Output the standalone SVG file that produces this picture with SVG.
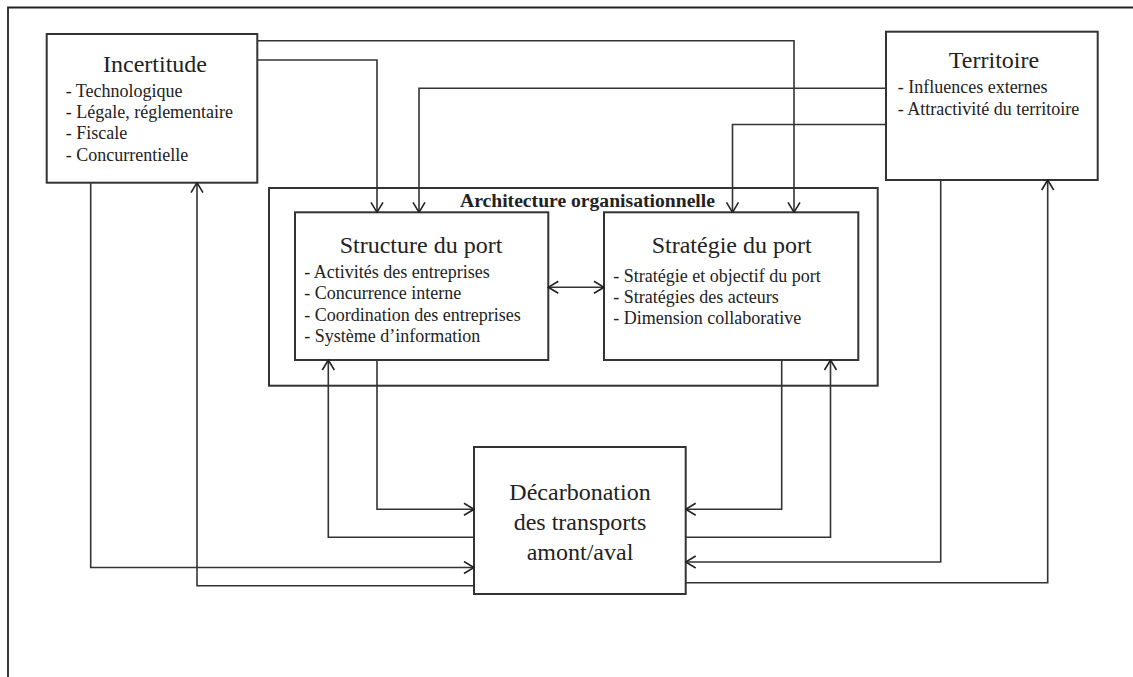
<svg xmlns="http://www.w3.org/2000/svg" width="1133" height="677" viewBox="0 0 1133 677">
<defs>
<marker id="arr" viewBox="0 0 12 14" refX="11" refY="7" markerWidth="12" markerHeight="14" markerUnits="userSpaceOnUse" orient="auto-start-reverse">
<path d="M1,1 L11,7 L1,13" fill="none" stroke="#222" stroke-width="1.6"/>
</marker>
</defs>
<style>
.box{fill:#fff;stroke:#333;stroke-width:2}
.frame{fill:none;stroke:#222;stroke-width:1.8}
.ln{fill:none;stroke:#333;stroke-width:1.6}
.ttl{font-family:"Liberation Serif","Times New Roman",serif;font-size:24px;fill:#222;text-anchor:middle}
.itm{font-family:"Liberation Serif","Times New Roman",serif;font-size:18px;fill:#222}
.arch{font-family:"Liberation Serif","Times New Roman",serif;font-size:18.5px;font-weight:bold;fill:#222}
</style>
<rect width="1133" height="677" fill="#fff"/>
<path class="frame" d="M8,677 V7.5 H1133"/>

<g id="architecture">
<rect class="box" x="269" y="188" width="608.7" height="197.7"/>
<text class="arch" x="460" y="206.5" textLength="255" lengthAdjust="spacingAndGlyphs">Architecture organisationnelle</text>
</g>

<g id="incertitude">
<rect class="box" x="46.7" y="34" width="210.6" height="148.7"/>
<text class="ttl" x="155" y="71.5">Incertitude</text>
<text class="itm" x="65.7" y="96.5">- Technologique</text>
<text class="itm" x="65.7" y="117.5">- Légale, réglementaire</text>
<text class="itm" x="65.7" y="139">- Fiscale</text>
<text class="itm" x="65.7" y="160.5">- Concurrentielle</text>
</g>

<g id="territoire">
<rect class="box" x="886" y="31.7" width="211.7" height="148.3"/>
<text class="ttl" x="994" y="68">Territoire</text>
<text class="itm" x="897.7" y="93">- Influences externes</text>
<text class="itm" x="897.7" y="115">- Attractivité du territoire</text>
</g>

<g id="structure">
<rect class="box" x="295" y="212.3" width="253.3" height="147.7"/>
<text class="ttl" x="421" y="252.7">Structure du port</text>
<text class="itm" x="304.3" y="277.7">- Activités des entreprises</text>
<text class="itm" x="304.3" y="299">- Concurrence interne</text>
<text class="itm" x="304.3" y="320.7">- Coordination des entreprises</text>
<text class="itm" x="304.3" y="342.3">- Système d’information</text>
</g>

<g id="strategie">
<rect class="box" x="604" y="212.3" width="254.3" height="147.7"/>
<text class="ttl" x="731.7" y="253">Stratégie du port</text>
<text class="itm" x="613.3" y="281.7">- Stratégie et objectif du port</text>
<text class="itm" x="613.3" y="302.7">- Stratégies des acteurs</text>
<text class="itm" x="613.3" y="324">- Dimension collaborative</text>
</g>

<g id="decarbonation">
<rect class="box" x="474" y="447" width="211.7" height="147"/>
<text class="ttl" x="580" y="499.5">Décarbonation</text>
<text class="ttl" x="580" y="529.5">des transports</text>
<text class="ttl" x="580" y="559.5">amont/aval</text>
</g>

<g id="connectors">
<path class="ln" d="M257.3,40.7 H794 V212.3" marker-end="url(#arr)"/>
<path class="ln" d="M257.3,60 H377 V212.3" marker-end="url(#arr)"/>
<path class="ln" d="M886,88.3 H419 V212.3" marker-end="url(#arr)"/>
<path class="ln" d="M886,124.5 H732.5 V212.3" marker-end="url(#arr)"/>
<path class="ln" d="M548.3,287.3 H604" marker-start="url(#arr)" marker-end="url(#arr)"/>
<path class="ln" d="M377,360 V509.3 H474" marker-end="url(#arr)"/>
<path class="ln" d="M474,537.3 H328.3 V360" marker-end="url(#arr)"/>
<path class="ln" d="M781.7,360 V509.3 H685.7" marker-end="url(#arr)"/>
<path class="ln" d="M685.7,537.3 H830.5 V360" marker-end="url(#arr)"/>
<path class="ln" d="M90.7,182.7 V567.5 H474" marker-end="url(#arr)"/>
<path class="ln" d="M474,585.7 H197 V182.7" marker-end="url(#arr)"/>
<path class="ln" d="M940.7,180 V562 H685.7" marker-end="url(#arr)"/>
<path class="ln" d="M685.7,582.7 H1047.7 V180" marker-end="url(#arr)"/>
</g>
</svg>
